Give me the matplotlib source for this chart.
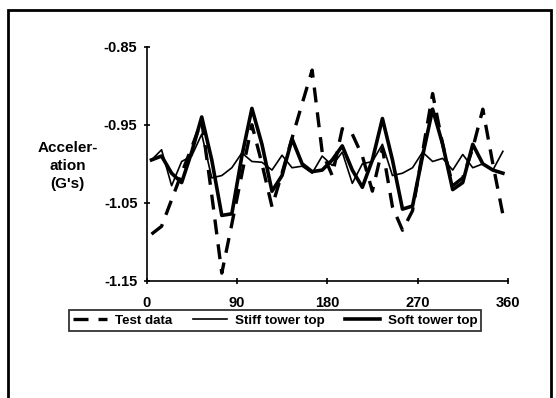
import matplotlib.pyplot as plt
from matplotlib.patches import Rectangle

# angle (deg) of each sample
angle = [5, 15, 25, 35, 45, 55, 65, 75, 85, 95,
         105, 115, 125, 135, 145, 155, 165, 175, 185, 195,
         205, 215, 225, 235, 245, 255, 265, 275, 285, 295,
         305, 315, 325, 335, 345, 355]

test_data = [-1.090, -1.080, -1.046, -1.012, -0.979, -0.945, -1.040, -1.140, -1.077, -1.013,
             -0.950, -1.000, -1.055, -1.012, -0.967, -0.923, -0.880, -0.985, -1.015, -0.955,
             -0.962, -0.990, -1.035, -0.980, -1.055, -1.085, -1.060, -0.985, -0.910, -0.975,
             -1.028, -1.018, -0.980, -0.930, -1.000, -1.065]

stiff_top = [-0.995, -0.982, -1.028, -0.997, -0.990, -0.962, -1.018, -1.015, -1.005, -0.986,
             -0.997, -0.998, -1.008, -0.989, -1.005, -1.003, -1.012, -0.990, -1.002, -0.985,
             -1.025, -1.000, -0.997, -0.975, -1.015, -1.012, -1.005, -0.985, -0.997, -0.993,
             -1.008, -0.988, -1.005, -1.000, -1.008, -0.984]

soft_top = [-0.995, -0.990, -1.012, -1.024, -0.985, -0.940, -0.995, -1.066, -1.064, -0.990,
            -0.929, -0.975, -1.035, -1.015, -0.968, -1.000, -1.010, -1.008, -0.995, -0.977,
            -1.008, -1.030, -0.995, -0.942, -0.995, -1.058, -1.054, -0.990, -0.930, -0.975,
            -1.033, -1.024, -0.975, -1.000, -1.008, -1.012]

xticks = [0, 90, 180, 270, 360]
yticks = [-0.85, -0.95, -1.05, -1.15]

plt.rcParams['font.family'] = ['Liberation Sans', 'DejaVu Sans']
plt.rcParams['font.weight'] = 'bold'

fig = plt.figure(figsize=(5.56, 3.98), dpi=100)
ax = fig.add_axes([0.2635, 0.294, 0.650, 0.5887])

ax.plot(angle, test_data, color='black', lw=2.4, dashes=(4.5, 3), label='Test data')
ax.plot(angle, stiff_top, color='black', lw=1.2, label='Stiff tower top')
ax.plot(angle, soft_top, color='black', lw=2.6, label='Soft tower top')

ax.set_xlim(0, 360)
ax.set_ylim(-1.15, -0.85)
ax.set_xticks(xticks)
ax.set_yticks(yticks)
ax.set_yticklabels(['%.2f' % v for v in yticks])
ax.spines['top'].set_visible(False)
ax.spines['right'].set_visible(False)
for s in ['left', 'bottom']:
    ax.spines[s].set_linewidth(1.2)
ax.tick_params(axis='both', direction='inout', length=5, width=1.2, labelsize=10.5)
ax.tick_params(axis='x', pad=8)
ax.tick_params(axis='y', pad=4)

fig.text(0.122, 0.583, "Acceler-\nation\n(G's)", ha='center', va='center',
         fontsize=11, fontweight='bold', linespacing=1.4)

leg = fig.legend(loc='center', bbox_to_anchor=(0.4946, 0.1947), ncol=3,
                 fontsize=9.6, frameon=True, fancybox=False, handlelength=2.6,
                 handletextpad=0.6, columnspacing=1.5, borderpad=0.3)
leg.get_frame().set_edgecolor('black')
leg.get_frame().set_linewidth(1.3)

fig.patches.append(Rectangle((8 / 556, -0.05), 543 / 556, 1 - 10 / 398 + 0.05,
                             transform=fig.transFigure, fill=False,
                             edgecolor='black', lw=2))

plt.savefig('out.png', format='png')
